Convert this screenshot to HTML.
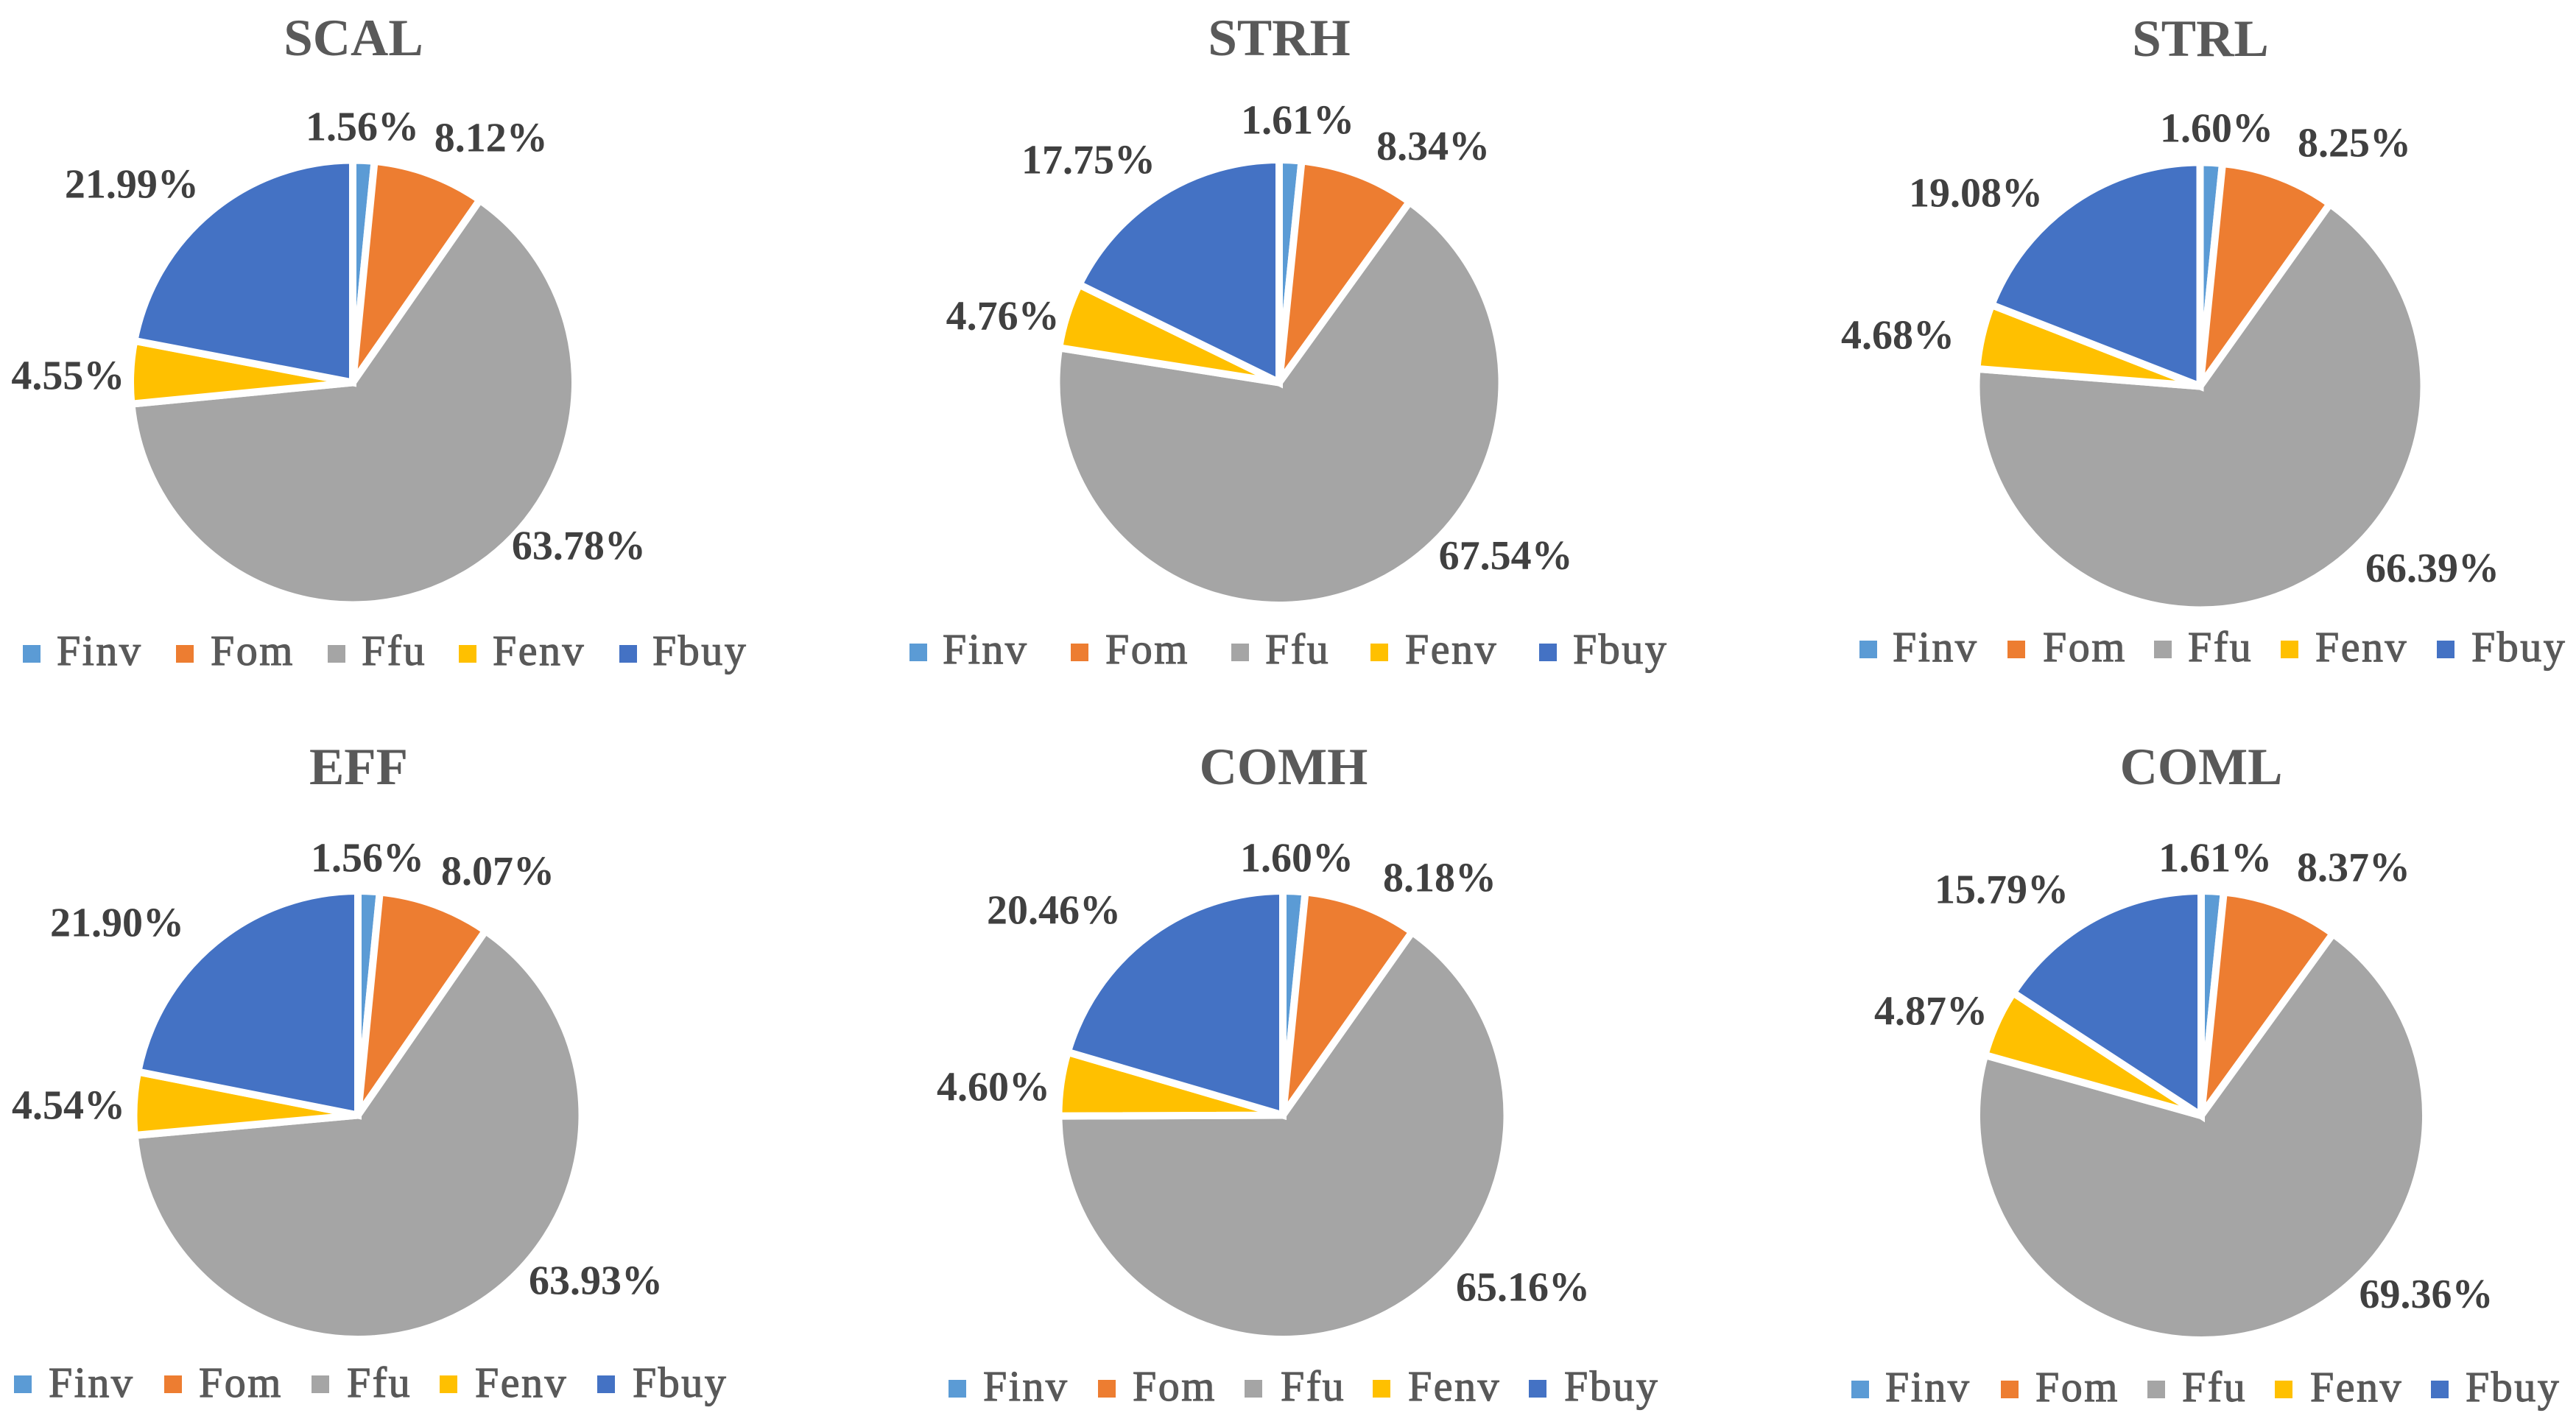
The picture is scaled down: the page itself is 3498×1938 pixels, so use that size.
<!DOCTYPE html>
<html lang="en">
<head>
<meta charset="utf-8">
<title>Pie charts of cost shares by scenario</title>
<style>
  html, body { margin: 0; padding: 0; background: #fff; }
  svg { display: block; }
  text { font-family: "Liberation Serif", serif; }
  .chart-title { font-size: 71px; font-weight: bold; fill: #595959; text-anchor: middle; }
  .data-label { font-size: 56px; font-weight: bold; fill: #404040; text-anchor: middle; }
  .legend-text { font-size: 58px; fill: #595959; stroke: #595959; stroke-width: 1.2px; letter-spacing: 2.5px; }
</style>
</head>
<body>
<svg id="figure" xmlns="http://www.w3.org/2000/svg" width="3498" height="1938" viewBox="0 0 3498 1938">
  <rect width="3498" height="1938" fill="#ffffff"></rect>
</svg>
<script>
// ---- Data ----
const categories = ["Finv", "Fom", "Ffu", "Fenv", "Fbuy"];
const chartTitles = ["SCAL", "STRH", "STRL", "EFF", "COMH", "COML"];
const scalValues = [1.56, 8.12, 63.78, 4.55, 21.99];
const strhValues = [1.61, 8.34, 67.54, 4.76, 17.75];
const strlValues = [1.60, 8.25, 66.39, 4.68, 19.08];
const effValues  = [1.56, 8.07, 63.93, 4.54, 21.90];
const comhValues = [1.60, 8.18, 65.16, 4.60, 20.46];
const comlValues = [1.61, 8.37, 69.36, 4.87, 15.79];
const seriesValues = [scalValues, strhValues, strlValues, effValues, comhValues, comlValues];

// ---- Styling and layout (not data) ----
const sliceColors = ["#5B9BD5", "#ED7D31", "#A5A5A5", "#FFC000", "#4472C4"];
const sliceGap = 10;
const labelRadius = 358;
const labelBaselineShift = 18;
const labelCenterShift = 3;
const swatchSize = 24;
const chartLayouts = [
  { cx: 479, cy: 519.5, r: 297, titleX: 480, titleY: 75,
    nudges: [[-7.5,10.6],[61,4],[123,-87],[-32,7.5],[-75,7]],
    swatchX: [31,239,445,623,841], swatchY: 876, textX: [77,286,491,669,886], textY: 903 },
  { cx: 1737, cy: 519.5, r: 297.5, titleX: 1737, titleY: 75,
    nudges: [[4,1.5],[79,14],[167,-95],[-37,18],[-72.5,2]],
    swatchX: [1235,1454,1672,1861,2090], swatchY: 874, textX: [1280,1501,1718,1908,2136], textY: 901 },
  { cx: 2987.5, cy: 524.5, r: 299, titleX: 2988, titleY: 76,
    nudges: [[1.5,7.5],[80.5,5],[161,-77],[-64.5,11],[-105.5,33.6]],
    swatchX: [2525,2726,2925,3097,3309], swatchY: 870, textX: [2570,2774,2971,3144,3356], textY: 898 },
  { cx: 486, cy: 1514.5, r: 299.5, titleX: 487, titleY: 1065,
    nudges: [[-7.5,8.6],[63.7,5],[139.6,-84],[-38.5,5.7],[-102.7,15.6]],
    swatchX: [19,223,423,597,811], swatchY: 1868, textX: [66,270,471,645,859], textY: 1897 },
  { cx: 1742, cy: 1514.5, r: 299.5, titleX: 1743, titleY: 1065,
    nudges: [[-2,8.5],[84.7,13.4],[157.7,-83.6],[-41.6,12.2],[-99.4,8.5]],
    swatchX: [1288,1491,1690,1864,2076], swatchY: 1874, textX: [1335,1538,1739,1912,2124], textY: 1902 },
  { cx: 2989, cy: 1515, r: 300, titleX: 2989, titleY: 1065,
    nudges: [[-2,8],[76.5,-2],[184.6,-95],[-44,6.3],[-103.6,8.4]],
    swatchX: [2514,2717,2916,3089,3301], swatchY: 1875, textX: [2560,2764,2963,3137,3348], textY: 1903 }
];

// ---- Drawing ----
const SVG_NS = "http://www.w3.org/2000/svg";
const figure = document.getElementById("figure");

function slug(s) { return s.toLowerCase(); }

// Angle scale: a cumulative share (percent of the total) maps to radians clockwise from 12 o'clock.
function angleOf(cumulative, total) { return cumulative / total * 2 * Math.PI; }
function polarX(cx, radius, angle) { return cx + radius * Math.sin(angle); }
function polarY(cy, radius, angle) { return cy - radius * Math.cos(angle); }

chartTitles.forEach(function (title, chartIndex) {
  const values = seriesValues[chartIndex];
  const layout = chartLayouts[chartIndex];
  const name = slug(title);
  const total = values.reduce(function (a, b) { return a + b; }, 0);
  const outer = layout.r + sliceGap / 2;

  const group = document.createElementNS(SVG_NS, "g");
  
  
  figure.appendChild(group);

  const titleEl = document.createElementNS(SVG_NS, "text");
  titleEl.setAttribute("class", "chart-title");
  titleEl.setAttribute("x", layout.titleX);
  titleEl.setAttribute("y", layout.titleY);
  
  
  titleEl.textContent = title;
  group.appendChild(titleEl);

  let cumulative = 0;
  values.forEach(function (value, i) {
    const a0 = angleOf(cumulative, total);
    const a1 = angleOf(cumulative + value, total);
    const mid = (a0 + a1) / 2;
    const large = (a1 - a0) > Math.PI ? 1 : 0;
    const d = "M " + layout.cx + " " + layout.cy +
      " L " + polarX(layout.cx, outer, a0) + " " + polarY(layout.cy, outer, a0) +
      " A " + outer + " " + outer + " 0 " + large + " 1 " +
      polarX(layout.cx, outer, a1) + " " + polarY(layout.cy, outer, a1) + " Z";

    const slice = document.createElementNS(SVG_NS, "path");
    slice.setAttribute("d", d);
    slice.setAttribute("fill", sliceColors[i]);
    slice.setAttribute("stroke", "#ffffff");
    slice.setAttribute("stroke-width", sliceGap);
    
    
    group.appendChild(slice);

    const label = document.createElementNS(SVG_NS, "text");
    label.setAttribute("class", "data-label");
    label.setAttribute("x", polarX(layout.cx, labelRadius, mid) + layout.nudges[i][0] + labelCenterShift);
    label.setAttribute("y", polarY(layout.cy, labelRadius, mid) + layout.nudges[i][1] + labelBaselineShift);
    
    
    label.textContent = value.toFixed(2) + "%";
    group.appendChild(label);

    cumulative += value;
  });

  const legend = document.createElementNS(SVG_NS, "g");
  
  
  group.appendChild(legend);

  categories.forEach(function (category, i) {
    const swatch = document.createElementNS(SVG_NS, "rect");
    swatch.setAttribute("x", layout.swatchX[i]);
    swatch.setAttribute("y", layout.swatchY);
    swatch.setAttribute("width", swatchSize);
    swatch.setAttribute("height", swatchSize);
    swatch.setAttribute("fill", sliceColors[i]);
    
    
    legend.appendChild(swatch);

    const text = document.createElementNS(SVG_NS, "text");
    text.setAttribute("class", "legend-text");
    text.setAttribute("x", layout.textX[i]);
    text.setAttribute("y", layout.textY);
    
    
    text.textContent = category;
    legend.appendChild(text);
  });
});
</script>
</body>
</html>
